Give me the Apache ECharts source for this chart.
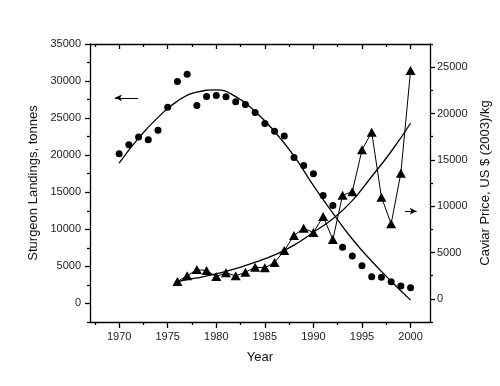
<!DOCTYPE html>
<html><head><meta charset="utf-8">
<script src="https://cdn.jsdelivr.net/npm/echarts@6/dist/echarts.min.js"></script>
<style>html,body{margin:0;padding:0;background:#fff}#c{width:500px;height:386px}</style>
</head><body><div id="c"></div>
<script>
// ---- data ----
var landYears = [1970,1971,1972,1973,1974,1975,1976,1977,1978,1979,1980,1981,1982,1983,1984,1985,1986,1987,1988,1989,1990,1991,1992,1993,1994,1995,1996,1997,1998,1999,2000];
var landings = [20200,21420,22460,22100,23360,26470,29950,30930,26700,27920,28050,27880,27200,26830,25750,24260,23220,22600,19700,18620,17500,14560,13210,7580,6400,5090,3600,3520,2920,2340,2110];
var priceYears = [1976,1977,1978,1979,1980,1981,1982,1983,1984,1985,1986,1987,1988,1989,1990,1991,1992,1993,1994,1995,1996,1997,1998,1999,2000];
var price = [1870,2480,3160,3050,2410,2810,2480,2870,3410,3350,3920,5210,6830,7620,7160,8880,6400,11180,11550,16080,17980,10970,8100,13560,24640];
var landFitYears = [1970,1972,1974,1976,1978,1980,1982,1984,1986,1988,1990,1992,1994,1996,1998,2000];
var landFit = [18940,22300,25100,27300,28500,28800,27900,25900,23200,19900,15900,12200,8700,5700,3000,450];
var priceFitYears = [1976,1978,1980,1982,1984,1986,1988,1990,1992,1994,1996,1998,2000];
var priceFit = [1870,2250,2700,3250,3950,4750,5800,7190,8650,10600,13200,15900,18950];
var xLabels = [1970,1975,1980,1985,1990,1995,2000];
var xMinor = [1967.5,1972.5,1977.5,1982.5,1987.5,1992.5,1997.5];
var leftLabels = [0,5000,10000,15000,20000,25000,30000,35000];
var leftMinor = [-2500,2500,7500,12500,17500,22500,27500,32500];
var rightLabels = [0,5000,10000,15000,20000,25000];
var rightMinor = [-2500,2500,7500,12500,17500,22500,27500];
var leftArrow = [[1971.97,27740],[1969.57,27740]];
var rightArrow = [[1999.43,9460],[2000.63,9460]];

function zip(a,b){return a.map(function(v,i){return [v,b[i]];});}
function plain(v){return String(v);}

var FONT = 'Liberation Sans';
var lblStyle = {color:'#222', fontSize:11, fontFamily:FONT, formatter:plain};
var nameStyle = {color:'#111', fontSize:13, fontFamily:FONT};
var blk = {color:'#000', width:1.3};

var chart = echarts.init(document.getElementById('c'), null, {renderer:'canvas'});
chart.setOption({
  animation:false,
  backgroundColor:'#fff',
  grid:{left:90, top:44, right:70, bottom:64, containLabel:false},
  xAxis:[
    {type:'value', position:'bottom', min:1967, max:2002,
     name:'Year', nameLocation:'middle', nameGap:29, nameTextStyle:nameStyle,
     axisLine:{show:true, onZero:false, lineStyle:blk}, splitLine:{show:false},
     axisTick:{show:true, inside:false, length:6, customValues:xLabels, lineStyle:blk},
     axisLabel:Object.assign({show:true, margin:9, customValues:xLabels}, lblStyle)},
    {type:'value', position:'bottom', min:1967, max:2002,
     axisLine:{show:false, onZero:false}, splitLine:{show:false}, axisLabel:{show:false},
     axisTick:{show:true, inside:false, length:3, customValues:xMinor, lineStyle:blk}},
    {type:'value', position:'top', min:1967, max:2002,
     axisLine:{show:true, onZero:false, lineStyle:blk}, splitLine:{show:false}, axisLabel:{show:false},
     axisTick:{show:true, inside:true, length:5, customValues:xLabels, lineStyle:blk}},
    {type:'value', position:'top', min:1967, max:2002,
     axisLine:{show:false, onZero:false}, splitLine:{show:false}, axisLabel:{show:false},
     axisTick:{show:true, inside:true, length:3, customValues:xMinor, lineStyle:blk}}
  ],
  yAxis:[
    {type:'value', position:'left', min:-2500, max:35000,
     name:'Sturgeon Landings, tonnes', nameLocation:'middle', nameGap:48, nameTextStyle:nameStyle,
     axisLine:{show:true, onZero:false, lineStyle:blk}, splitLine:{show:false},
     axisTick:{show:true, inside:false, length:5, customValues:leftLabels, lineStyle:blk},
     axisLabel:Object.assign({show:true, margin:9, customValues:leftLabels}, lblStyle)},
    {type:'value', position:'left', min:-2500, max:35000,
     axisLine:{show:false, onZero:false}, splitLine:{show:false}, axisLabel:{show:false},
     axisTick:{show:true, inside:false, length:3, customValues:leftMinor, lineStyle:blk}},
    {type:'value', position:'right', min:-2500, max:27500,
     name:'Caviar Price, US $ (2003)/kg', nameLocation:'middle', nameGap:38, nameTextStyle:nameStyle,
     axisLine:{show:true, onZero:false, lineStyle:blk}, splitLine:{show:false},
     axisTick:{show:true, inside:false, length:5, customValues:rightLabels, lineStyle:blk},
     axisLabel:Object.assign({show:true, margin:7, customValues:rightLabels}, lblStyle)},
    {type:'value', position:'right', min:-2500, max:27500,
     axisLine:{show:false, onZero:false}, splitLine:{show:false}, axisLabel:{show:false},
     axisTick:{show:true, inside:false, length:3, customValues:rightMinor, lineStyle:blk}}
  ],
  series:[
    {type:'scatter', name:'Landings', xAxisIndex:0, yAxisIndex:0,
     data:zip(landYears, landings), symbol:'circle', symbolSize:7,
     itemStyle:{color:'#000', opacity:1},
     markLine:{silent:true, symbol:['none','arrow'], symbolSize:[5,7], label:{show:false},
       lineStyle:{color:'#000', width:1, type:'solid'},
       data:[[{coord:leftArrow[0]},{coord:leftArrow[1]}]]}},
    {type:'line', name:'LandingsFit', xAxisIndex:0, yAxisIndex:0,
     data:zip(landFitYears, landFit), smooth:true, showSymbol:false,
     lineStyle:{color:'#000', width:1.3}},
    {type:'line', name:'Price', xAxisIndex:0, yAxisIndex:2,
     data:zip(priceYears, price), symbol:'triangle', symbolSize:[10,9], showSymbol:true,
     itemStyle:{color:'#000', opacity:1}, lineStyle:{color:'#000', width:1},
     markLine:{silent:true, symbol:['none','arrow'], symbolSize:[5,7], label:{show:false},
       lineStyle:{color:'#000', width:1, type:'solid'},
       data:[[{coord:rightArrow[0]},{coord:rightArrow[1]}]]}},
    {type:'line', name:'PriceFit', xAxisIndex:0, yAxisIndex:2,
     data:zip(priceFitYears, priceFit), smooth:true, showSymbol:false,
     lineStyle:{color:'#000', width:1.3}}
  ]
});
</script></body></html>
